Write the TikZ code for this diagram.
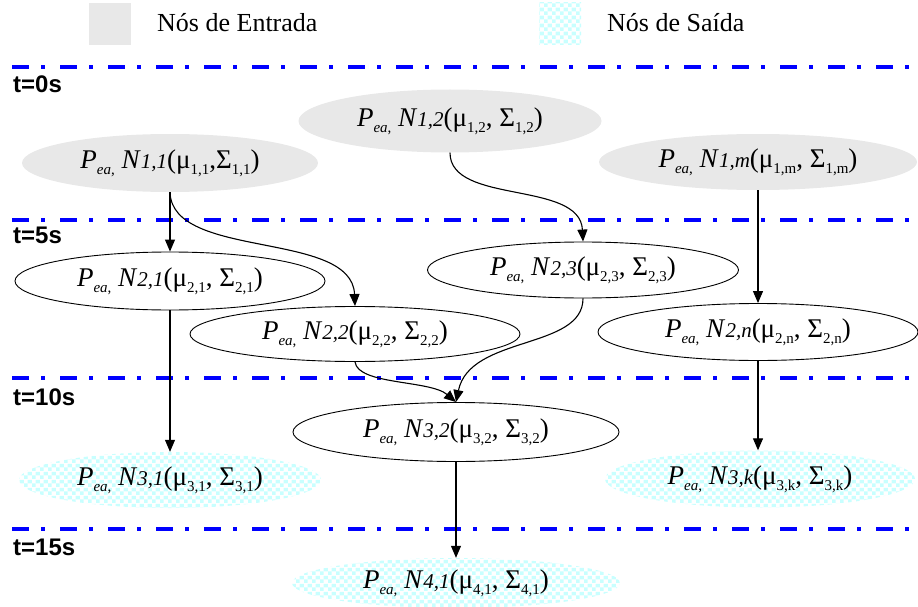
\documentclass[tikz,border=0pt]{standalone}
\usepackage{fontspec}
\setmainfont{Liberation Serif}
\newfontfamily\tlabfont{Liberation Sans}
\usetikzlibrary{shapes.geometric,arrows.meta,patterns.meta}
\definecolor{entrygray}{RGB}{232,232,232}
\definecolor{checkcyan}{RGB}{200,255,255}
\definecolor{lineblue}{RGB}{0,0,255}
\tikzdeclarepattern{
  name=cyancheck,
  type=colored,
  bounding box={(0pt,0pt) and (8pt,8pt)},
  tile size={(8pt,8pt)},
  code={
    \fill[checkcyan] (0pt,0pt) rectangle (4pt,4pt);
    \fill[checkcyan] (4pt,4pt) rectangle (8pt,8pt);
  }
}
\newcommand{\sbs}[1]{\raisebox{-0.22em}{\fontsize{15}{15}\selectfont #1}}
\newcommand{\nsub}[1]{{\fontsize{21}{21}\selectfont\itshape #1}}
\newcommand{\lbl}[4][\ ]{\textit{P}\sbs{\textit{ea},}\ \textit{N}\nsub{#2}(μ\sbs{#3},#1Σ\sbs{#4})}
\tikzset{
  enode/.style={ellipse, inner sep=0pt, font=\fontsize{27}{27}\selectfont},
  entrada/.style={enode, fill=entrygray},
  inter/.style={enode, draw=black, line width=0.9pt, fill=white},
  saida/.style={enode, pattern=cyancheck},
  arr/.style={line width=1.1pt, -{Triangle[length=12pt,width=10pt]}},
  tline/.style={lineblue, line width=4pt, dash pattern=on 17pt off 12pt on 4pt off 15pt},
  tlab/.style={anchor=base west, inner sep=0pt, font=\tlabfont\bfseries\fontsize{24}{24}\selectfont},
  legtext/.style={anchor=base west, inner sep=0pt, font=\fontsize{26}{26}\selectfont}
}
\begin{document}
\begin{tikzpicture}[x=1pt, y=-1pt]
\useasboundingbox (0,0) rectangle (918,607);
% legend
\node[fill=entrygray, minimum width=42pt, minimum height=42pt, inner sep=0pt] (legin) at (110,24) {};
\node[legtext] (legintxt) at (157,32) {Nós de Entrada};
\node[pattern=cyancheck, minimum width=42pt, minimum height=42pt, inner sep=0pt] (legout) at (560,24) {};
\node[legtext] (legouttxt) at (607,32) {Nós de Saída};
% time lines
\draw[tline] (12,67) -- (918,67);
\draw[tline] (12,220) -- (918,220);
\draw[tline] (12,378) -- (918,378);
\draw[tline] (12,529) -- (918,529);
\node[tlab] (t0) at (13,93) {t=0s};
\node[tlab] (t5) at (13,243) {t=5s};
\node[tlab] (t10) at (13,405) {t=10s};
\node[tlab] (t15) at (13,555) {t=15s};
% nodes
\node[entrada, minimum width=296pt, minimum height=58pt] (n11) at (170,163) {\lbl[]{1,1}{1,1}{1,1}};
\node[entrada, minimum width=303pt, minimum height=63pt] (n12) at (450,121) {\lbl{1,2}{1,2}{1,2}};
\node[entrada, minimum width=318pt, minimum height=56pt] (n1m) at (758,162) {\lbl{1,\textit{m}}{1,m}{1,m}};
\node[inter, minimum width=310pt, minimum height=58pt] (n21) at (170,281) {\lbl{2,1}{2,1}{2,1}};
\node[inter, minimum width=330pt, minimum height=55pt] (n22) at (355,334) {\lbl{2,2}{2,2}{2,2}};
\node[inter, minimum width=311pt, minimum height=56pt] (n23) at (583,270) {\lbl{2,3}{2,3}{2,3}};
\node[inter, minimum width=320pt, minimum height=57pt] (n2n) at (758,332) {\lbl{2,\textit{n}}{2,n}{2,n}};
\node[inter, minimum width=326pt, minimum height=59pt] (n32) at (456,432) {\lbl{3,2}{3,2}{3,2}};
\node[saida, minimum width=302pt, minimum height=56pt] (n31) at (170,480) {\lbl{3,1}{3,1}{3,1}};
\node[saida, minimum width=310pt, minimum height=57pt] (n3k) at (760,479) {\lbl{3,\textit{k}}{3,k}{3,k}};
\node[saida, minimum width=328pt, minimum height=50pt] (n41) at (456,583) {\lbl{4,1}{4,1}{4,1}};
% connectors
\draw[arr] (n11.south) -- (n21.north);
\draw[arr] (n11.south) .. controls (172,260) and (352,230) .. (n22.north);
\draw[arr] (n12.south) .. controls (450,205) and (580,180) .. (n23.north);
\draw[arr] (n1m.south) -- (n2n.north);
\draw[arr] (n21.south) -- (n31.north);
\draw[arr] (n23.south) .. controls (583,350) and (470,335) .. (n32.north);
\draw[arr] (n22.south) .. controls (358,385) and (430,380) .. (n32.north);
\draw[arr] (n2n.south) -- (n2n.south |- n3k.north);
\draw[arr] (n32.south) -- (n41.north);
\end{tikzpicture}
\end{document}
